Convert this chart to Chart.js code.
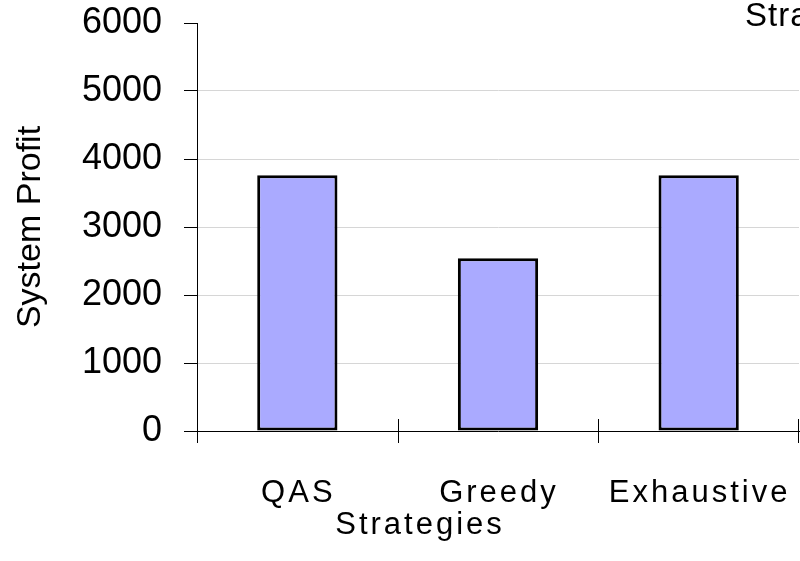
<!DOCTYPE html>
<html>
<head>
<meta charset="utf-8">
<script src="https://cdn.jsdelivr.net/npm/chart.js@4.4.1/dist/chart.umd.min.js"></script>
<style>
  html, body { margin: 0; padding: 0; background: #fff; overflow: hidden; }
  #wrap { width: 800px; height: 561px; }
</style>
</head>
<body>
<div id="wrap"><canvas id="profitChart" width="800" height="561"></canvas></div>
<script>
const strategies = ['QAS', 'Greedy', 'Exhaustive'];
const systemProfit = [3760, 2540, 3760];
const yTicks = [0, 1000, 2000, 3000, 4000, 5000, 6000];
const xTitle = 'Strategies';
const yTitle = 'System Profit';
const topText = 'Strategies';

const FONT = '"Liberation Sans", Arial, sans-serif';

// x labels, axis title and category tick marks are drawn here (they need letter spacing)
const axisExtras = {
  id: 'axisExtras',
  afterDraw(chart) {
    const ctx = chart.ctx;
    const x = chart.scales.x;
    const area = chart.chartArea;
    const step = x.getPixelForValue(1) - x.getPixelForValue(0);
    ctx.save();

    ctx.strokeStyle = '#000';
    ctx.lineWidth = 1;
    for (let i = 0; i <= strategies.length; i++) {
      let px = Math.round(x.getPixelForValue(i) - step / 2) + 0.5;
      if (px > chart.width - 1) px = chart.width - 1.5;
      ctx.beginPath();
      ctx.moveTo(px, area.bottom - 12);
      ctx.lineTo(px, area.bottom + 12);
      ctx.stroke();
    }

    ctx.fillStyle = '#000';
    ctx.textAlign = 'center';
    ctx.textBaseline = 'alphabetic';
    ctx.font = '31px ' + FONT;
    ctx.letterSpacing = '3px';
    strategies.forEach((s, i) => {
      ctx.fillText(s, x.getPixelForValue(i) + 1, 502);
    });

    ctx.font = '31px ' + FONT;
    ctx.letterSpacing = '3px';
    ctx.fillText(xTitle, 420, 534);

    ctx.textAlign = 'left';
    ctx.font = '33px ' + FONT;
    ctx.letterSpacing = '1px';
    ctx.fillText(topText, 745, 26);
    ctx.restore();
  }
};

const ctx = document.getElementById('profitChart').getContext('2d');
new Chart(ctx, {
  type: 'bar',
  data: {
    labels: strategies,
    datasets: [{
      label: yTitle,
      data: systemProfit,
      backgroundColor: '#aaaaff',
      borderColor: '#000',
      borderWidth: 3,
      borderSkipped: false,
      barPercentage: 0.4,
      categoryPercentage: 1
    }]
  },
  options: {
    responsive: false,
    animation: false,
    layout: { padding: { top: 23, right: 1, left: 0, bottom: 0 } },
    plugins: {
      legend: { display: false },
      tooltip: { enabled: false }
    },
    scales: {
      x: {
        offset: true,
        grid: { display: false },
        border: { display: true, color: '#000', width: 1 },
        ticks: { display: false },
        afterFit(scale) { scale.height = 130; }
      },
      y: {
        min: 0,
        max: 6000,
        afterBuildTicks(scale) { scale.ticks = yTicks.map(v => ({ value: v })); },
        grid: {
          color(c) {
            const v = c.tick ? c.tick.value : null;
            return (v === 6000 || v === 0) ? 'rgba(0,0,0,0)' : '#d6d6d6';
          },
          tickColor: '#000',
          tickLength: 13,
          lineWidth: 1
        },
        border: { display: true, color: '#000', width: 1 },
        ticks: {
          color: '#000',
          padding: 22,
          font: { size: 36, family: FONT },
          callback: v => String(v)
        },
        title: {
          display: true,
          text: yTitle,
          color: '#000',
          font: { size: 34, family: FONT },
          padding: { top: 10, bottom: 0 }
        },
        afterFit(scale) {
          scale.width = 197;
          scale.paddingTop = 0;
          scale.paddingBottom = 0;
        }
      }
    }
  },
  plugins: [axisExtras]
});
</script>
</body>
</html>
